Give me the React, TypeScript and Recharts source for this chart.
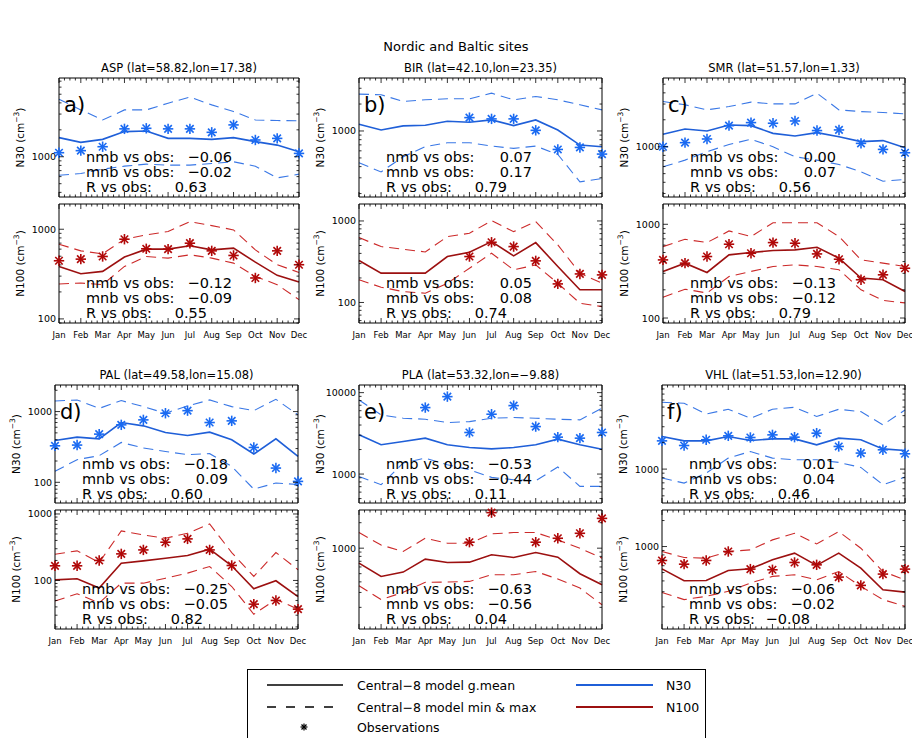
import React from 'react'
import { ComposedChart, Line, Scatter, XAxis, YAxis } from 'recharts'

document.body.style.margin = '0'
document.body.style.background = '#fff'

const FONT = '"DejaVu Sans", sans-serif'

const MONTHS = ['Jan', 'Feb', 'Mar', 'Apr', 'May', 'Jun', 'Jul', 'Aug', 'Sep', 'Oct', 'Nov', 'Dec']
const DECADES = [10, 100, 1000, 10000]
const MINOR_STEPS = [2, 3, 4, 5, 6, 7, 8, 9]
const X_SUBDIV = 4

// ASP
const ASP_N30_MEAN = [1635, 1450, 1565, 1910, 1940, 1605, 1605, 1565, 1635, 1475, 1350, 1140]
const ASP_N30_MIN = [622, 650, 727, 785, 827, 806, 806, 841, 879, 785, 581, 639]
const ASP_N30_MAX = [4400, 3340, 2580, 3340, 3340, 3970, 4640, 3800, 3200, 2580, 2540, 2520]
const ASP_N30_OBS = [1110, 1170, 1295, 2050, 2080, 2050, 2050, 1875, 2270, 1540, 1605, 1090]
const ASP_N100_MEAN = [385, 319, 339, 489, 600, 600, 653, 589, 615, 430, 306, 258]
const ASP_N100_MIN = [245, 251, 241, 385, 497, 476, 519, 476, 419, 298, 241, 164]
const ASP_N100_MAX = [681, 574, 532, 774, 865, 942, 1217, 1098, 983, 589, 402, 330]
const ASP_N100_OBS = [445, 464, 497, 774, 605, 600, 699, 574, 510, 286, 574, 402]

// BIR
const BIR_N30_MEAN = [1190, 1026, 1140, 1160, 1285, 1250, 1330, 1150, 1330, 1026, 696, 667]
const BIR_N30_MIN = [441, 349, 515, 667, 740, 740, 678, 639, 678, 547, 270, 294]
const BIR_N30_MAX = [2580, 2540, 2140, 2230, 2290, 2290, 2650, 2230, 2430, 2230, 1960, 1720]
const BIR_N30_OBS = [null, null, null, null, null, 1410, 1365, 1365, 1017, 622, 655, 552]
const BIR_N100_MEAN = [327, 229, 229, 229, 366, 413, 558, 373, 543, 276, 143, 143]
const BIR_N100_MIN = [190, 154, 136, 130, 172, 263, 402, 251, 289, 172, 98, 89]
const BIR_N100_MAX = [625, 485, 450, 417, 643, 706, 1009, 740, 981, 508, 229, 172]
const BIR_N100_OBS = [null, null, null, null, null, 366, 548, 485, 324, 169, 224, 218]

// SMR
const SMR_N30_MEAN = [1375, 1580, 1500, 1750, 1720, 1410, 1320, 1435, 1295, 1140, 1170, 975]
const SMR_N30_MIN = [596, 708, 879, 1060, 1210, 1000, 772, 708, 633, 524, 411, 430]
const SMR_N30_MAX = [3200, 2940, 2580, 2810, 3150, 3010, 3010, 3970, 2580, 2470, 2410, 2330]
const SMR_N30_OBS = [1000, 1110, 1220, 1720, 1860, 1830, 1940, 1515, 1540, 1090, 933, 856]
const SMR_N100_MEAN = [314, 385, 306, 472, 500, 525, 533, 569, 435, 267, 256, 192]
const SMR_N100_MIN = [167, 203, 185, 277, 314, 355, 369, 355, 327, 200, 154, 145]
const SMR_N100_MAX = [578, 692, 638, 849, 740, 1040, 1040, 1040, 740, 417, 385, 355]
const SMR_N100_OBS = [417, 385, 453, 613, 491, 638, 628, 483, 424, 256, 289, 340]

// PAL
const PAL_N30_MEAN = [390, 435, 412, 700, 628, 506, 459, 512, 399, 251, 412, 232]
const PAL_N30_MIN = [143, 209, 238, 366, 305, 273, 246, 254, 168, 80, 98, 93]
const PAL_N30_MAX = [1410, 1460, 1110, 1430, 1175, 947, 1200, 1460, 1175, 1030, 1490, 898]
const PAL_N30_OBS = [328, 336, 480, 649, 763, 947, 1030, 700, 739, 311, 159, 103]
const PAL_N100_MEAN = [102, 106, 77, 182, 197, 216, 237, 295, 166, 75, 99, 57]
const PAL_N100_MIN = [49, 63, 46, 91, 91, 108, 129, 162, 81, 31, 52, 37]
const PAL_N100_MAX = [248, 279, 186, 556, 484, 431, 513, 708, 263, 115, 263, 145]
const PAL_N100_OBS = [166, 166, 200, 251, 288, 376, 422, 288, 168, 44, 50, 37]

// PLA
const PLA_N30_MEAN = [3030, 2290, 2510, 2760, 2290, 2120, 2040, 2120, 2290, 2680, 2290, 2020]
const PLA_N30_MIN = [936, 740, 1365, 1570, 1300, 1130, 910, 852, 829, 1220, 706, 706]
const PLA_N30_MAX = [8130, 5330, 4850, 4710, 4290, 4410, 4850, 4940, 4850, 4710, 4630, 6430]
const PLA_N30_OBS = [null, null, null, 6550, 8930, 3240, 5430, 6930, 3830, 2840, 2760, 3240]
const PLA_N100_MEAN = [666, 464, 522, 743, 678, 684, 835, 777, 889, 784, 499, 370]
const PLA_N100_MIN = [360, 247, 301, 395, 398, 405, 486, 486, 531, 432, 338, 215]
const PLA_N100_MAX = [1530, 1090, 914, 1310, 1145, 1145, 1475, 1530, 1530, 1250, 1000, 763]
const PLA_N100_OBS = [null, null, null, null, null, 1177, 2630, null, 1177, 1310, 1500, 2250]

// VHL
const VHL_N30_MEAN = [2330, 2080, 2080, 2330, 2100, 2190, 2190, 1875, 2230, 2140, 1690, 1620]
const VHL_N30_MIN = [792, 696, 902, 1330, 1580, 1330, 1273, 1273, 1190, 1044, 667, 813]
const VHL_N30_MAX = [5660, 5520, 4180, 4720, 3740, 4720, 4970, 3910, 4720, 4440, 3150, 4640]
const VHL_N30_OBS = [2080, 1845, 2140, 2370, 2270, 2430, 2290, 2540, 1800, 1515, 1650, 1487]
const VHL_N100_MEAN = [552, 402, 404, 529, 552, 702, 838, 604, 838, 562, 316, 297]
const VHL_N100_MIN = [294, 243, 265, 303, 378, 451, 471, 412, 514, 346, 243, 203]
const VHL_N100_MAX = [876, 747, 733, 876, 915, 1194, 1425, 1073, 1490, 957, 514, 412]
const VHL_N100_OBS = [690, 625, 690, 876, 548, 538, 654, 614, 443, 355, 480, 548]

// y ranges
const ASP_RANGE = { n30: [355, 7590], n100: [90, 1912] }
const BIR_RANGE = { n30: [183, 3908], n100: [56, 1615] }
const SMR_RANGE = { n30: [274, 5863], n100: [88.5, 1646] }
const PAL_RANGE = { n30: [51, 2374], n100: [18.6, 1148] }
const PLA_RANGE = { n30: [441, 12410], n100: [111, 2825] }
const VHL_RANGE = { n30: [415, 8860], n100: [111, 2649] }

// nmb, mnb, R
const ASP_STATS = { n30: [-0.06, -0.02, 0.63], n100: [-0.12, -0.09, 0.55] }
const BIR_STATS = { n30: [0.07, 0.17, 0.79], n100: [0.05, 0.08, 0.74] }
const SMR_STATS = { n30: [0.0, 0.07, 0.56], n100: [-0.13, -0.12, 0.79] }
const PAL_STATS = { n30: [-0.18, 0.09, 0.6], n100: [-0.25, -0.05, 0.82] }
const PLA_STATS = { n30: [-0.53, -0.44, 0.11], n100: [-0.63, -0.56, 0.04] }
const VHL_STATS = { n30: [0.01, 0.04, 0.46], n100: [-0.06, -0.02, -0.08] }

const STAT_LABELS = ['nmb vs obs:', 'mnb vs obs:', 'R vs obs:']

const COLORS = {
  n30: { mean: '#1f5fd8', range: '#3a78e6', obs: '#1a6af2' },
  n100: { mean: '#9c1010', range: '#cc2a2a', obs: '#b00808' },
}

type Box = { x: number; y: number; w: number; h: number }

const TOP_UPPER = { y: 78, h: 119 }
const TOP_LOWER = { y: 204, h: 119 }
const BOT_UPPER = { y: 385, h: 118 }
const BOT_LOWER = { y: 510, h: 119 }

const SITES = [
  {
    letter: 'a', title: 'ASP  (lat=58.82,lon=17.38)', x: 59, w: 240, rows: [TOP_UPPER, TOP_LOWER],
    n30: { mean: ASP_N30_MEAN, min: ASP_N30_MIN, max: ASP_N30_MAX, obs: ASP_N30_OBS, domain: ASP_RANGE.n30, stats: ASP_STATS.n30 },
    n100: { mean: ASP_N100_MEAN, min: ASP_N100_MIN, max: ASP_N100_MAX, obs: ASP_N100_OBS, domain: ASP_RANGE.n100, stats: ASP_STATS.n100 },
  },
  {
    letter: 'b', title: 'BIR  (lat=42.10,lon=23.35)', x: 359, w: 243, rows: [TOP_UPPER, TOP_LOWER],
    n30: { mean: BIR_N30_MEAN, min: BIR_N30_MIN, max: BIR_N30_MAX, obs: BIR_N30_OBS, domain: BIR_RANGE.n30, stats: BIR_STATS.n30 },
    n100: { mean: BIR_N100_MEAN, min: BIR_N100_MIN, max: BIR_N100_MAX, obs: BIR_N100_OBS, domain: BIR_RANGE.n100, stats: BIR_STATS.n100 },
  },
  {
    letter: 'c', title: 'SMR  (lat=51.57,lon=1.33)', x: 663, w: 242, rows: [TOP_UPPER, TOP_LOWER],
    n30: { mean: SMR_N30_MEAN, min: SMR_N30_MIN, max: SMR_N30_MAX, obs: SMR_N30_OBS, domain: SMR_RANGE.n30, stats: SMR_STATS.n30 },
    n100: { mean: SMR_N100_MEAN, min: SMR_N100_MIN, max: SMR_N100_MAX, obs: SMR_N100_OBS, domain: SMR_RANGE.n100, stats: SMR_STATS.n100 },
  },
  {
    letter: 'd', title: 'PAL  (lat=49.58,lon=15.08)', x: 55, w: 243, rows: [BOT_UPPER, BOT_LOWER],
    n30: { mean: PAL_N30_MEAN, min: PAL_N30_MIN, max: PAL_N30_MAX, obs: PAL_N30_OBS, domain: PAL_RANGE.n30, stats: PAL_STATS.n30 },
    n100: { mean: PAL_N100_MEAN, min: PAL_N100_MIN, max: PAL_N100_MAX, obs: PAL_N100_OBS, domain: PAL_RANGE.n100, stats: PAL_STATS.n100 },
  },
  {
    letter: 'e', title: 'PLA  (lat=53.32,lon=\u22129.88)', x: 359, w: 243, rows: [BOT_UPPER, BOT_LOWER],
    n30: { mean: PLA_N30_MEAN, min: PLA_N30_MIN, max: PLA_N30_MAX, obs: PLA_N30_OBS, domain: PLA_RANGE.n30, stats: PLA_STATS.n30 },
    n100: { mean: PLA_N100_MEAN, min: PLA_N100_MIN, max: PLA_N100_MAX, obs: PLA_N100_OBS, domain: PLA_RANGE.n100, stats: PLA_STATS.n100 },
  },
  {
    letter: 'f', title: 'VHL  (lat=51.53,lon=12.90)', x: 662, w: 243, rows: [BOT_UPPER, BOT_LOWER],
    n30: { mean: VHL_N30_MEAN, min: VHL_N30_MIN, max: VHL_N30_MAX, obs: VHL_N30_OBS, domain: VHL_RANGE.n30, stats: VHL_STATS.n30 },
    n100: { mean: VHL_N100_MEAN, min: VHL_N100_MIN, max: VHL_N100_MAX, obs: VHL_N100_OBS, domain: VHL_RANGE.n100, stats: VHL_STATS.n100 },
  },
]

const X_TICKS = Array.from({ length: 11 * X_SUBDIV + 1 }, (_, i) => i / X_SUBDIV)

function logTicks([lo, hi]: number[]) {
  const out: number[] = []
  DECADES.forEach((d) => {
    ;[1, ...MINOR_STEPS].forEach((k) => {
      const v = k * d
      if (v >= lo && v <= hi) out.push(v)
    })
  })
  return out.sort((a, b) => a - b)
}

const fmt = (v: number) => (v < 0 ? '\u2212' : '') + Math.abs(v).toFixed(2)

function renderYTick(p: any, side: 'left' | 'right') {
  const v = p.payload.value
  const major = DECADES.includes(v)
  const len = major ? 5 : 2.5
  const dx = side === 'left' ? len : -len
  return (
    <g>
      <line x1={p.x} y1={p.y} x2={p.x + dx} y2={p.y} stroke="#000" strokeWidth={0.8} />
      {side === 'left' && major && (
        <text x={p.x - 3} y={p.y} textAnchor="end" dominantBaseline="central" fontSize={9.5} fontFamily={FONT} fill="#000">
          {v}
        </text>
      )}
    </g>
  )
}

function renderXTick(p: any, side: 'top' | 'bottom', labels: boolean) {
  const v = p.payload.value
  const major = Number.isInteger(v)
  const len = major ? 5 : 2.5
  const dy = side === 'bottom' ? -len : len
  return (
    <g>
      <line x1={p.x} y1={p.y} x2={p.x} y2={p.y + dy} stroke="#000" strokeWidth={0.8} />
      {labels && major && (
        <text x={p.x} y={p.y + 12} textAnchor="middle" dominantBaseline="central" fontSize={8.5} fontFamily={FONT} fill="#000">
          {MONTHS[v]}
        </text>
      )}
    </g>
  )
}

function asterisk(color: string) {
  return (p: any) => {
    const { cx, cy } = p
    if (cx == null || cy == null) return <g />
    const r = 5.2
    const d = r * 0.72
    return (
      <g stroke={color} strokeWidth={1.6}>
        <line x1={cx - r} y1={cy} x2={cx + r} y2={cy} />
        <line x1={cx} y1={cy - r} x2={cx} y2={cy + r} />
        <line x1={cx - d} y1={cy - d} x2={cx + d} y2={cy + d} />
        <line x1={cx - d} y1={cy + d} x2={cx + d} y2={cy - d} />
      </g>
    )
  }
}

// axes need a non-zero size to be drawn, so each one takes 1px of the margin
const AX = 1

function Panel({ box, s, kind, showMonths }: { box: Box; s: any; kind: 'n30' | 'n100'; showMonths: boolean }) {
  const ML = 60
  const MR = 14
  const MT = 10
  const MB = showMonths ? 24 : 10
  const c = COLORS[kind]
  const rows = MONTHS.map((_, i) => ({ m: i, mean: s.mean[i], min: s.min[i], max: s.max[i] }))
  const obsRows = s.obs.flatMap((v: number | null, i: number) => (v == null ? [] : [{ m: i, obs: v }]))
  const yTicks = logTicks(s.domain)
  const common = { xAxisId: 'b', yAxisId: 'l', isAnimationActive: false }
  const axisLine = { stroke: '#000', strokeWidth: 1 }
  return (
    <div style={{ position: 'absolute', left: box.x - ML, top: box.y - MT }}>
      <ComposedChart
        width={box.w + ML + MR}
        height={box.h + MT + MB}
        data={rows}
        margin={{ top: MT - AX, right: MR - AX, bottom: MB - AX, left: ML - AX }}
      >
        <XAxis
          xAxisId="b"
          dataKey="m"
          type="number"
          domain={[0, 11]}
          ticks={X_TICKS}
          interval={0}
          height={AX}
          tickSize={0}
          tickMargin={0}
          tickLine={false}
          axisLine={axisLine}
          tick={(p: any) => renderXTick(p, 'bottom', showMonths)}
        />
        <XAxis
          xAxisId="t"
          orientation="top"
          type="number"
          domain={[0, 11]}
          allowDataOverflow
          ticks={X_TICKS}
          interval={0}
          height={AX}
          tickSize={0}
          tickMargin={0}
          tickLine={false}
          axisLine={axisLine}
          tick={(p: any) => renderXTick(p, 'top', false)}
        />
        <YAxis
          yAxisId="l"
          type="number"
          scale="log"
          domain={s.domain}
          ticks={yTicks}
          interval={0}
          width={AX}
          tickSize={0}
          tickMargin={0}
          tickLine={false}
          axisLine={axisLine}
          tick={(p: any) => renderYTick(p, 'left')}
        />
        <YAxis
          yAxisId="r"
          orientation="right"
          type="number"
          scale="log"
          domain={s.domain}
          allowDataOverflow
          ticks={yTicks}
          interval={0}
          width={AX}
          tickSize={0}
          tickMargin={0}
          tickLine={false}
          axisLine={axisLine}
          tick={(p: any) => renderYTick(p, 'right')}
        />
        <Line {...common} dataKey="max" stroke={c.range} strokeWidth={1.1} strokeDasharray="10 6" dot={false} />
        <Line {...common} dataKey="min" stroke={c.range} strokeWidth={1.1} strokeDasharray="10 6" dot={false} />
        <Line {...common} dataKey="mean" stroke={c.mean} strokeWidth={1.6} dot={false} />
        <Scatter {...common} data={obsRows} dataKey="obs" shape={asterisk(c.obs)} />
      </ComposedChart>
    </div>
  )
}

function Stats({ box, stats }: { box: Box; stats: number[] }) {
  return (
    <g fontFamily={FONT} fontSize={14.5} fill="#000">
      {STAT_LABELS.map((lab, i) => {
        const y = box.y + 78.5 + i * 15
        return (
          <g key={lab}>
            <text x={box.x + 27} y={y} dominantBaseline="central">
              {lab}
            </text>
            <text x={box.x + (i < 2 ? 173 : 148)} y={y} textAnchor="end" dominantBaseline="central">
              {fmt(stats[i])}
            </text>
          </g>
        )
      })}
    </g>
  )
}

function YLabel({ x, cy, name }: { x: number; cy: number; name: string }) {
  return (
    <text
      transform={`translate(${x},${cy}) rotate(-90)`}
      textAnchor="middle"
      dominantBaseline="central"
      fontFamily={FONT}
      fontSize={10.5}
      fill="#000"
    >
      {name} (cm<tspan dy={-4} fontSize={7.5}>{'\u22123'}</tspan>
      <tspan dy={4}>)</tspan>
    </text>
  )
}

function LegendBox() {
  const ty = [685, 707, 727]
  return (
    <g fontFamily={FONT} fontSize={12.5} fill="#000">
      <rect x={247.5} y={669.5} width={458} height={100} fill="none" stroke="#000" strokeWidth={1} />
      <line x1={267} y1={ty[0]} x2={343} y2={ty[0]} stroke="#000" strokeWidth={1.6} />
      <line x1={267} y1={ty[1]} x2={343} y2={ty[1]} stroke="#000" strokeWidth={1.6} strokeDasharray="9 10" />
      <g stroke="#000" strokeWidth={1.2}>
        <line x1={300.5} y1={ty[2]} x2={307.5} y2={ty[2]} />
        <line x1={304} y1={ty[2] - 3.5} x2={304} y2={ty[2] + 3.5} />
        <line x1={301.5} y1={ty[2] - 2.5} x2={306.5} y2={ty[2] + 2.5} />
        <line x1={301.5} y1={ty[2] + 2.5} x2={306.5} y2={ty[2] - 2.5} />
      </g>
      <text x={357} y={ty[0]} dominantBaseline="central">Central{'\u2212'}8 model g.mean</text>
      <text x={357} y={ty[1]} dominantBaseline="central">Central{'\u2212'}8 model min &amp; max</text>
      <text x={357} y={ty[2]} dominantBaseline="central">Observations</text>
      <line x1={576} y1={ty[0]} x2={653} y2={ty[0]} stroke={COLORS.n30.mean} strokeWidth={2} />
      <line x1={576} y1={ty[1]} x2={653} y2={ty[1]} stroke={COLORS.n100.mean} strokeWidth={2} />
      <text x={666} y={ty[0]} dominantBaseline="central">N30</text>
      <text x={666} y={ty[1]} dominantBaseline="central">N100</text>
    </g>
  )
}

export default function App() {
  return (
    <div style={{ position: 'relative', width: 912, height: 738, background: '#fff', overflow: 'hidden' }}>
      {SITES.map((site) => {
        const upper = { x: site.x, w: site.w, ...site.rows[0] }
        const lower = { x: site.x, w: site.w, ...site.rows[1] }
        return (
          <React.Fragment key={site.letter}>
            <Panel box={upper} s={site.n30} kind="n30" showMonths={false} />
            <Panel box={lower} s={site.n100} kind="n100" showMonths={true} />
          </React.Fragment>
        )
      })}
      <svg width={912} height={738} style={{ position: 'absolute', left: 0, top: 0, pointerEvents: 'none' }}>
        <text x={456} y={46} textAnchor="middle" dominantBaseline="central" fontFamily={FONT} fontSize={13} fill="#000">
          Nordic and Baltic sites
        </text>
        {SITES.map((site) => {
          const upper = { x: site.x, w: site.w, ...site.rows[0] }
          const lower = { x: site.x, w: site.w, ...site.rows[1] }
          return (
            <g key={site.letter}>
              <text
                x={site.x + site.w / 2}
                y={upper.y - 10}
                textAnchor="middle"
                dominantBaseline="central"
                fontFamily={FONT}
                fontSize={11.5}
                fill="#000"
              >
                {site.title}
              </text>
              <text x={site.x + 5} y={upper.y + 27} dominantBaseline="central" fontFamily={FONT} fontSize={21} fill="#000">
                {site.letter})
              </text>
              <YLabel x={site.x - 39} cy={upper.y + upper.h / 2} name="N30" />
              <YLabel x={site.x - 39} cy={lower.y + lower.h / 2} name="N100" />
              <Stats box={upper} stats={site.n30.stats} />
              <Stats box={lower} stats={site.n100.stats} />
            </g>
          )
        })}
        <LegendBox />
      </svg>
    </div>
  )
}
